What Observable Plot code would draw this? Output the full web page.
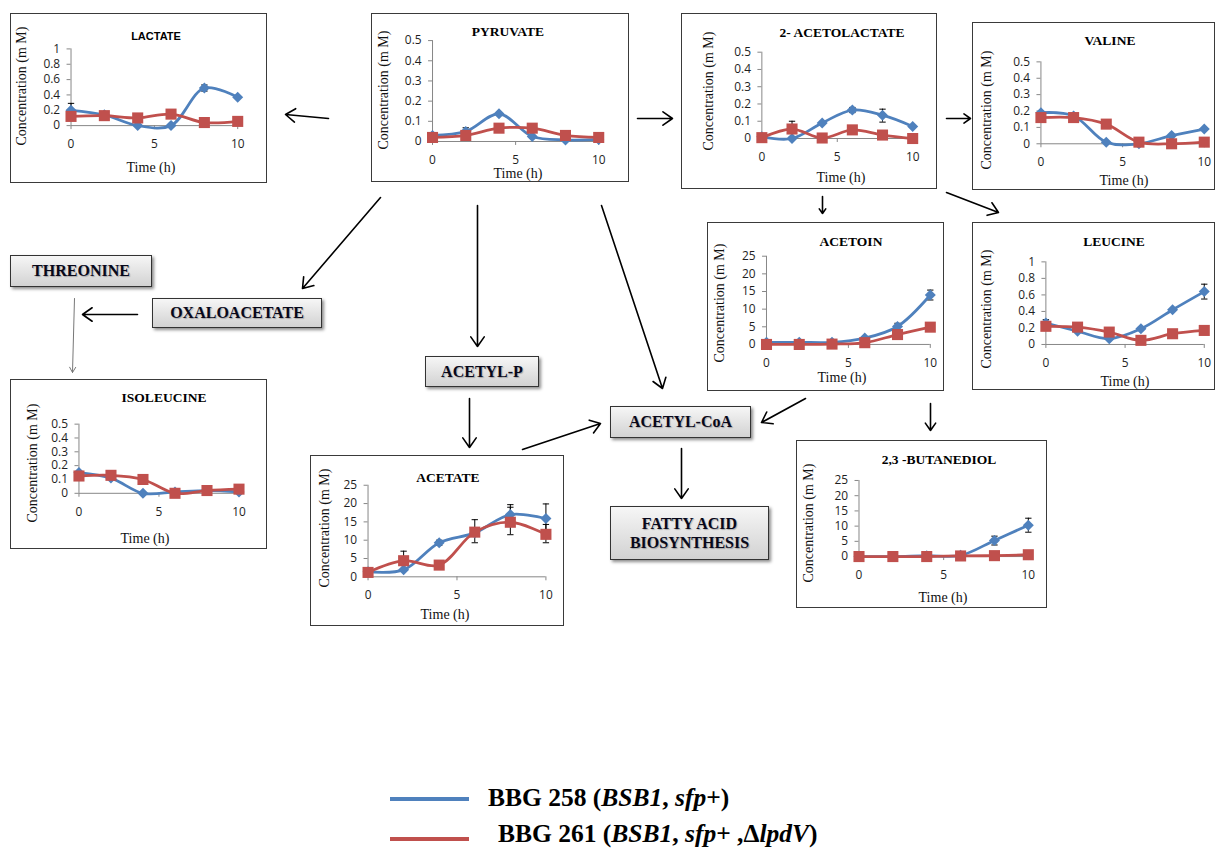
<!DOCTYPE html>
<html><head><meta charset="utf-8">
<script src="https://cdn.jsdelivr.net/npm/d3@7"></script>
<script src="https://cdn.jsdelivr.net/npm/@observablehq/plot@0.6"></script>
<style>
html,body{margin:0;padding:0;background:#fff}
body{width:1217px;height:850px;position:relative;overflow:hidden;font-family:"Liberation Serif",serif}
#bg{position:absolute;left:0;top:0}
.panel{position:absolute;box-sizing:border-box;border:1px solid #3a3a3a;background:#fff}
.panel svg{position:absolute;left:-1px;top:-1px;overflow:visible}
.ptitle{position:absolute;transform:translate(-50%,-50%);font-weight:bold;font-size:13.5px;font-family:"Liberation Serif",serif;white-space:nowrap;color:#000}
.ptitle.sans{font-family:"Liberation Sans",sans-serif;font-size:11px}
.ylab{position:absolute;transform:translate(-50%,-50%) rotate(-90deg);font-size:14px;line-height:14px;font-family:"Liberation Serif",serif;white-space:nowrap;color:#111}
.xlab{position:absolute;transform:translate(-50%,-50%);font-size:14px;line-height:14px;font-family:"Liberation Serif",serif;white-space:nowrap;color:#111}
.node{position:absolute;box-sizing:border-box;border:1px solid #333;background:linear-gradient(#f6f6f6,#d2d2d2);box-shadow:2px 2px 3px rgba(0,0,0,.45);display:flex;align-items:center;justify-content:center;text-align:center;font-weight:bold;font-size:16px;font-family:"Liberation Serif",serif;color:#08081a;line-height:1.2;text-shadow:1px 1px 1px rgba(0,0,0,.25)}
.legline{position:absolute;height:4px}
.legtext{position:absolute;transform:translateY(-50%);font-weight:bold;font-size:25.5px;line-height:26px;font-family:"Liberation Serif",serif;white-space:nowrap;color:#000}
</style></head><body>
<script>
// ---------- data ----------
const times = [0, 2, 4, 6, 8, 10];
const xTicks = [0, 5, 10];
const ticksHalf = [0, 0.1, 0.2, 0.3, 0.4, 0.5];
const ticksOne = [0, 0.2, 0.4, 0.6, 0.8, 1];
const ticksTwentyFive = [0, 5, 10, 15, 20, 25];
const strains = ["BBG 258", "BBG 261"];

const lactateBBG258 = [0.20, 0.14, 0.00, 0.00, 0.49, 0.37];
const lactateBBG261 = [0.12, 0.13, 0.10, 0.15, 0.04, 0.055];
const pyruvateBBG258 = [0.03, 0.05, 0.137, 0.025, 0.008, 0.01];
const pyruvateBBG261 = [0.02, 0.03, 0.066, 0.066, 0.03, 0.02];
const acetolactateBBG258 = [0.01, 0.00, 0.09, 0.165, 0.135, 0.07];
const acetolactateBBG261 = [0.005, 0.055, 0.003, 0.05, 0.02, 0.00];
const valineBBG258 = [0.19, 0.17, 0.01, 0.00, 0.05, 0.09];
const valineBBG261 = [0.16, 0.16, 0.12, 0.01, 0.00, 0.01];
const acetoinBBG258 = [0.6, 0.6, 0.6, 1.8, 5.1, 14.0];
const acetoinBBG261 = [0.0, 0.0, 0.1, 0.5, 2.8, 4.9];
const leucineBBG258 = [0.26, 0.16, 0.07, 0.19, 0.42, 0.64];
const leucineBBG261 = [0.22, 0.21, 0.15, 0.05, 0.13, 0.17];
const isoleucineBBG258 = [0.15, 0.11, 0.00, 0.01, 0.02, 0.01];
const isoleucineBBG261 = [0.125, 0.13, 0.10, 0.00, 0.02, 0.03];
const acetateBBG258 = [1.4, 1.9, 9.3, 12.0, 17.0, 15.9];
const acetateBBG261 = [1.2, 4.4, 3.2, 12.2, 14.9, 11.6];
const butanediolBBG258 = [0.0, 0.0, 0.3, 0.4, 5.3, 10.3];
const butanediolBBG261 = [0.0, 0.0, 0.0, 0.2, 0.3, 0.6];

// error bars: strain index 0 = BBG 258, 1 = BBG 261
const lactateErrors = [{t: 0, strain: 0, lo: 0.12, hi: 0.29}, {t: 8, strain: 0, lo: 0.45, hi: 0.53}];
const pyruvateErrors = [{t: 2, strain: 0, lo: 0.035, hi: 0.068}];
const acetolactateErrors = [{t: 2, strain: 1, lo: 0.01, hi: 0.10}, {t: 6, strain: 0, lo: 0.15, hi: 0.18}, {t: 8, strain: 0, lo: 0.095, hi: 0.17}];
const valineErrors = [];
const acetoinErrors = [{t: 8, strain: 0, lo: 4.0, hi: 6.0}, {t: 10, strain: 0, lo: 12.6, hi: 15.4}];
const leucineErrors = [{t: 0, strain: 0, lo: 0.22, hi: 0.30}, {t: 10, strain: 0, lo: 0.55, hi: 0.73}];
const isoleucineErrors = [];
const acetateErrors = [
  {t: 2, strain: 1, lo: 2.0, hi: 7.0}, {t: 4, strain: 0, lo: 8.6, hi: 10.0},
  {t: 6, strain: 1, lo: 9.3, hi: 15.6}, {t: 8, strain: 0, lo: 14.5, hi: 19.7},
  {t: 8, strain: 1, lo: 11.5, hi: 19.0}, {t: 10, strain: 0, lo: 12.0, hi: 19.9},
  {t: 10, strain: 1, lo: 9.3, hi: 14.3}
];
const butanediolErrors = [{t: 8, strain: 0, lo: 3.8, hi: 6.7}, {t: 10, strain: 0, lo: 8.0, hi: 12.6}];

// ---------- styling / layout ----------
const BLUE = "#4F81BD", RED = "#C0504D", AXIS = "#868686";

const panels = [
  {title: "LACTATE", sans: true, s258: lactateBBG258, s261: lactateBBG261, err: lactateErrors, ymax: 1, yTicks: ticksOne,
   box: [10, 13, 257, 170], area: [61, 229, 35.7, 113], titlePos: [146, 23], ylabPos: [12, 73], xlabPos: [141, 155]},
  {title: "PYRUVATE", s258: pyruvateBBG258, s261: pyruvateBBG261, err: pyruvateErrors, ymax: 0.5, yTicks: ticksHalf,
   box: [371, 13, 258, 169], area: [61.5, 229, 27.3, 129], titlePos: [137, 18.5], ylabPos: [13, 77], xlabPos: [147, 161]},
  {title: "2- ACETOLACTATE", s258: acetolactateBBG258, s261: acetolactateBBG261, err: acetolactateErrors, ymax: 0.5, yTicks: ticksHalf,
   box: [681, 13, 256, 176], area: [81, 233, 39, 126], titlePos: [161, 20], ylabPos: [28, 78], xlabPos: [160, 165]},
  {title: "VALINE", s258: valineBBG258, s261: valineBBG261, err: valineErrors, ymax: 0.5, yTicks: ticksHalf,
   box: [972, 22, 243, 168], area: [69, 233.7, 39.7, 122.3], titlePos: [138, 19], ylabPos: [15, 88], xlabPos: [152, 159]},
  {title: "ACETOIN", s258: acetoinBBG258, s261: acetoinBBG261, err: acetoinErrors, ymax: 25, yTicks: ticksTwentyFive,
   box: [707, 222, 237, 169], area: [59.5, 224.7, 34, 123], titlePos: [144, 20], ylabPos: [12.5, 80.5], xlabPos: [135, 156]},
  {title: "LEUCINE", s258: leucineBBG258, s261: leucineBBG261, err: leucineErrors, ymax: 1, yTicks: ticksOne,
   box: [972, 222, 243, 168], area: [74, 233.7, 39.7, 123], titlePos: [142, 20], ylabPos: [15, 87], xlabPos: [153, 160]},
  {title: "ISOLEUCINE", s258: isoleucineBBG258, s261: isoleucineBBG261, err: isoleucineErrors, ymax: 0.5, yTicks: ticksHalf,
   box: [10, 379, 257, 170], area: [69, 230.3, 45, 114.7], titlePos: [154, 19], ylabPos: [23, 84], xlabPos: [135, 160]},
  {title: "ACETATE", s258: acetateBBG258, s261: acetateBBG261, err: acetateErrors, ymax: 25, yTicks: ticksTwentyFive,
   box: [310, 455, 254, 171], area: [58, 237.3, 30, 122.3], titlePos: [138, 23], ylabPos: [15, 73], xlabPos: [135, 160]},
  {title: "2,3 -BUTANEDIOL", s258: butanediolBBG258, s261: butanediolBBG261, err: butanediolErrors, ymax: 25, yTicks: ticksTwentyFive,
   box: [796, 440, 251, 168], area: [63, 233.7, 40.3, 117], titlePos: [143, 20], ylabPos: [13, 83], xlabPos: [147, 158]}
];

const nodes = [
  {text: "THREONINE", box: [10, 255, 142, 32]},
  {text: "OXALOACETATE", box: [152, 298, 170, 30]},
  {text: "ACETYL-P", box: [425, 356, 114, 31]},
  {text: "ACETYL-CoA", box: [610, 406, 141, 32]},
  {text: "FATTY ACID<br>BIOSYNTHESIS", box: [610, 506, 159, 54]}
];

const pathwayArrows = [
  {x1: 328, y1: 118, x2: 285, y2: 114},
  {x1: 637, y1: 118, x2: 672, y2: 118},
  {x1: 946, y1: 118, x2: 970, y2: 118},
  {x1: 822, y1: 196, x2: 822, y2: 213},
  {x1: 946, y1: 192, x2: 998, y2: 212},
  {x1: 380, y1: 197, x2: 302, y2: 288},
  {x1: 477, y1: 205, x2: 477, y2: 346},
  {x1: 601, y1: 205, x2: 662, y2: 388},
  {x1: 137, y1: 314, x2: 82, y2: 314},
  {x1: 469, y1: 398, x2: 469, y2: 447},
  {x1: 522, y1: 449, x2: 600, y2: 423},
  {x1: 805, y1: 398, x2: 761, y2: 422},
  {x1: 681, y1: 448, x2: 681, y2: 498},
  {x1: 930, y1: 403, x2: 930, y2: 430}
];
const thinArrows = [{x1: 74, y1: 298, x2: 72, y2: 372}];

// ---------- background pathway arrows ----------
const bg = Plot.plot({
  width: 1217, height: 850, margin: 0,
  x: {type: "identity", axis: null}, y: {type: "identity", axis: null},
  style: {background: "transparent"},
  marks: [
    Plot.arrow(pathwayArrows, {x1: "x1", y1: "y1", x2: "x2", y2: "y2", stroke: "#000", strokeWidth: 1.6, headLength: 11, headAngle: 70}),
    Plot.arrow(thinArrows, {x1: "x1", y1: "y1", x2: "x2", y2: "y2", stroke: "#777", strokeWidth: 1, headLength: 9, headAngle: 60})
  ]
});
bg.id = "bg";
document.body.appendChild(bg);

// ---------- nodes ----------
for (const n of nodes) {
  const d = document.createElement("div");
  d.className = "node";
  Object.assign(d.style, {left: n.box[0] + "px", top: n.box[1] + "px", width: n.box[2] + "px", height: n.box[3] + "px"});
  d.innerHTML = n.text;
  document.body.appendChild(d);
}

// ---------- panels ----------
const capSymbol = {draw(ctx, size) { const r = Math.sqrt(size / Math.PI); ctx.moveTo(-r, 0); ctx.lineTo(r, 0); }};

function makePanel(cfg) {
  const [bx, by, W, H] = cfg.box;
  const [x0, x10, yTop, y0] = cfg.area;
  const div = document.createElement("div");
  div.className = "panel";
  Object.assign(div.style, {left: bx + "px", top: by + "px", width: W + "px", height: H + "px"});

  const rows258 = times.map((t, i) => ({t, v: cfg.s258[i], strain: strains[0]}));
  const rows261 = times.map((t, i) => ({t, v: cfg.s261[i], strain: strains[1]}));
  const errs = cfg.err.map(e => ({...e, strain: strains[e.strain]}));

  const chart = Plot.plot({
    width: W, height: H,
    marginLeft: x0, marginRight: W - x10, marginTop: yTop, marginBottom: H - y0,
    x: {domain: [0, 10]},
    y: {domain: [0, cfg.ymax]},
    style: {fontFamily: '"Open Sans", sans-serif', fontSize: "12px", color: "#1e1e1e", background: "transparent", overflow: "visible"},
    marks: [
      Plot.ruleY([0], {stroke: AXIS, strokeWidth: 1}),
      Plot.ruleX([0], {stroke: AXIS, strokeWidth: 1}),
      Plot.axisY({ticks: cfg.yTicks, tickSize: 4, tickPadding: 7, tickFormat: d3.format("~g"), label: null, stroke: AXIS, fill: "#1e1e1e"}),
      Plot.axisX({ticks: xTicks, tickSize: 4, tickPadding: 10, tickFormat: d3.format("~g"), label: null, stroke: AXIS, fill: "#1e1e1e"}),
      Plot.ruleX(errs, {x: "t", y1: "lo", y2: "hi", stroke: "#000", strokeWidth: 1}),
      Plot.dot(errs, {x: "t", y: "lo", symbol: capSymbol, r: 3.2, stroke: "#000", strokeWidth: 1, fill: "none"}),
      Plot.dot(errs, {x: "t", y: "hi", symbol: capSymbol, r: 3.2, stroke: "#000", strokeWidth: 1, fill: "none"}),
      Plot.line(rows258, {x: "t", y: "v", stroke: BLUE, strokeWidth: 2.8, curve: "catmull-rom"}),
      Plot.dot(rows258, {x: "t", y: "v", symbol: "diamond2", r: 5, fill: BLUE, stroke: "none"}),
      Plot.line(rows261, {x: "t", y: "v", stroke: RED, strokeWidth: 2.8, curve: "catmull-rom"}),
      Plot.dot(rows261, {x: "t", y: "v", symbol: "square", r: 6.3, fill: RED, stroke: "none"})
    ]
  });
  div.appendChild(chart);

  const t = document.createElement("div");
  t.className = "ptitle" + (cfg.sans ? " sans" : "");
  t.textContent = cfg.title;
  Object.assign(t.style, {left: (cfg.titlePos[0] - 1) + "px", top: (cfg.titlePos[1] - 1) + "px"});
  div.appendChild(t);

  const yl = document.createElement("div");
  yl.className = "ylab";
  yl.textContent = "Concentration (m M)";
  Object.assign(yl.style, {left: (cfg.ylabPos[0] - 1) + "px", top: (cfg.ylabPos[1] - 1) + "px"});
  div.appendChild(yl);

  const xl = document.createElement("div");
  xl.className = "xlab";
  xl.textContent = "Time (h)";
  Object.assign(xl.style, {left: (cfg.xlabPos[0] - 1) + "px", top: (cfg.xlabPos[1] - 1) + "px"});
  div.appendChild(xl);

  document.body.appendChild(div);
}
panels.forEach(makePanel);

// ---------- legend ----------
const legendItems = [
  {color: BLUE, html: "BBG 258 (<i>BSB1</i>, <i>sfp</i>+)", lineY: 799, textY: 798, textX: 488},
  {color: RED, html: "BBG 261 (<i>BSB1</i>, <i>sfp</i>+ ,\u0394<i>lpdV</i>)", lineY: 839, textY: 834, textX: 498}
];
for (const it of legendItems) {
  const l = document.createElement("div");
  l.className = "legline";
  Object.assign(l.style, {left: "390px", width: "79px", top: (it.lineY - 2) + "px", background: it.color});
  document.body.appendChild(l);
  const tx = document.createElement("div");
  tx.className = "legtext";
  tx.innerHTML = it.html;
  Object.assign(tx.style, {left: it.textX + "px", top: it.textY + "px"});
  document.body.appendChild(tx);
}
</script>
</body></html>
